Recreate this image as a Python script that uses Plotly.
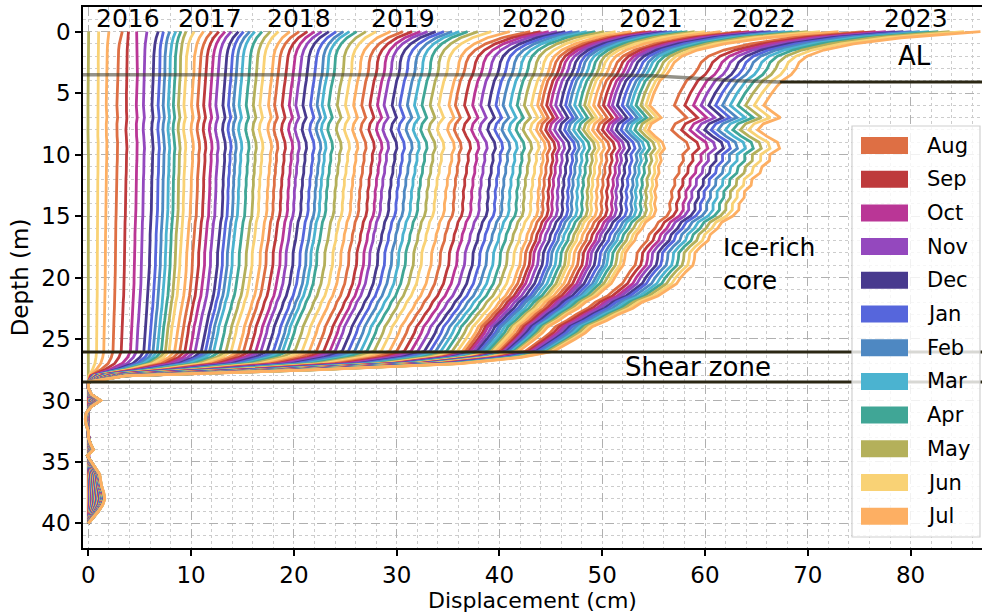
import numpy as np
import plotly.graph_objects as go

# ---------------------------------------------------------------------------
# Inclinometer surveys, monthly from May 2015 to Jul 2023
# ---------------------------------------------------------------------------
MONTH_ABBR = ["Jan", "Feb", "Mar", "Apr", "May", "Jun",
              "Jul", "Aug", "Sep", "Oct", "Nov", "Dec"]
survey_labels = []
yy, mm = 2015, 5
for _ in range(99):
    survey_labels.append(f"{MONTH_ABBR[mm - 1]} {yy}")
    mm += 1
    if mm > 12:
        mm, yy = 1, yy + 1

# cumulative displacement (cm) at the ground surface
surface = [0.03, 1.0, 2.0,
           3.3, 3.9, 4.7, 5.7, 6.8, 7.3, 7.9, 8.5, 9.0, 9.5, 10.3, 11.2,
           12.0, 12.7, 13.3, 13.9, 14.6, 15.1, 15.7, 16.2, 16.9, 17.7, 18.5, 19.6,
           20.5, 21.3, 22.0, 22.7, 23.4, 24.1, 24.8, 25.4, 26.1, 27.0, 28.0, 29.4,
           30.6, 31.5, 32.3, 33.0, 33.8, 34.6, 35.4, 36.1, 36.9, 37.9, 39.2, 41.0,
           43.0, 44.0, 44.8, 45.6, 46.4, 47.1, 47.8, 48.5, 49.3, 50.2, 51.3, 52.8,
           54.2, 54.8, 55.3, 55.8, 56.3, 56.8, 57.3, 57.8, 58.3, 59.0, 60.0, 61.5,
           63.5, 64.3, 65.0, 65.7, 66.4, 67.1, 67.8, 68.5, 69.2, 70.0, 71.2, 73.0,
           75.5, 76.6, 77.6, 78.5, 79.3, 80.1, 80.9, 81.8, 82.7, 83.8, 85.2, 86.8]

# cumulative displacement (cm) at the base of the active layer (~4 m)
al_base = [0.0, 0.95, 1.8,
           2.85, 3.75, 4.75, 5.45, 6.3, 6.9, 7.4, 7.9, 8.4, 8.9, 9.45, 10.2,
           10.8, 11.4, 12.0, 12.6, 13.3, 13.85, 14.35, 14.9, 15.6, 16.3, 16.95, 17.8,
           18.4, 19.15, 19.85, 20.5, 21.2, 21.95, 22.6, 23.1, 23.75, 24.6, 25.4, 26.2,
           27.0, 27.8, 28.55, 29.2, 30.0, 30.75, 31.5, 32.2, 32.95, 33.75, 34.6, 35.6,
           36.2, 37.1, 37.9, 38.7, 39.5, 40.2, 40.9, 41.6, 42.3, 43.0, 43.7, 44.3,
           44.7, 45.2, 45.6, 46.1, 46.6, 47.1, 47.5, 48.0, 48.5, 49.0, 49.4, 49.9,
           50.4, 50.9, 51.4, 51.8, 52.3, 52.8, 53.3, 53.7, 54.2, 54.7, 55.2, 55.6,
           58.2, 59.3, 60.2, 61.0, 61.8, 62.5, 63.2, 64.0, 64.8, 65.6, 66.5, 67.5]

# cumulative displacement (cm) at 15 m depth
core_15m = [0.0, 0.9, 1.7,
            2.7, 3.6, 4.6, 5.3, 6.1, 6.7, 7.2, 7.7, 8.2, 8.7, 9.2, 9.9,
            10.5, 11.1, 11.7, 12.3, 13.0, 13.5, 14.0, 14.5, 15.2, 15.9, 16.5, 17.3,
            17.9, 18.6, 19.3, 19.9, 20.6, 21.3, 21.9, 22.4, 23.0, 23.8, 24.6, 25.4,
            26.2, 27.0, 27.7, 28.3, 29.1, 29.8, 30.5, 31.2, 31.9, 32.7, 33.5, 34.5,
            35.4, 36.3, 37.1, 37.9, 38.7, 39.4, 40.1, 40.8, 41.5, 42.2, 42.9, 43.6,
            44.1, 44.6, 45.0, 45.5, 46.0, 46.5, 46.9, 47.4, 47.9, 48.4, 48.8, 49.3,
            49.8, 50.3, 50.8, 51.2, 51.7, 52.2, 52.7, 53.1, 53.6, 54.1, 54.6, 55.0,
            56.3, 56.9, 57.5, 58.0, 58.6, 59.1, 59.7, 60.3, 60.9, 61.5, 62.1, 62.7]

# cumulative displacement (cm) at the top of the shear zone (26 m)
shear_top = [0.0, 0.8, 1.5,
             2.4, 3.2, 4.1, 4.7, 5.4, 5.9, 6.3, 6.7, 7.1, 7.5, 7.85, 8.4,
             8.9, 9.4, 9.9, 10.4, 11.0, 11.4, 11.8, 12.2, 12.8, 13.4, 13.9, 14.6,
             15.1, 15.7, 16.3, 16.8, 17.4, 18.0, 18.5, 18.9, 19.4, 20.1, 20.8, 21.5,
             22.2, 22.9, 23.5, 24.0, 24.7, 25.3, 25.9, 26.5, 27.1, 27.8, 28.5, 29.3,
             30.0, 30.75, 31.4, 32.05, 32.7, 33.25, 33.8, 34.3, 34.85, 35.4, 35.9, 36.4,
             36.7, 37.0, 37.2, 37.5, 37.8, 38.1, 38.3, 38.6, 38.9, 39.2, 39.4, 39.7,
             40.0, 40.2, 40.4, 40.5, 40.7, 40.9, 41.1, 41.2, 41.4, 41.6, 41.8, 41.9,
             42.5, 42.8, 43.1, 43.3, 43.6, 43.8, 44.1, 44.4, 44.6, 44.8, 45.1, 45.3]

# profile shape within each depth segment (share of the segment's displacement)
al_depths = [0.0, 0.5, 1.0, 1.5, 2.0, 2.5, 3.0, 3.5, 4.0]
al_share = [1.0, 0.6, 0.36, 0.21, 0.12, 0.07, 0.04, 0.02, 0.0]

upper_depths = [4.5, 5.0, 5.5, 6.0, 6.5, 7.0, 7.5, 8.0, 8.5, 9.0, 9.5, 10.0,
                10.5, 11.0, 11.5, 12.0, 12.5, 13.0, 13.5, 14.0, 14.5, 15.0]
upper_share = [0.99, 0.98, 0.96, 0.94, 0.92, 0.90, 0.87, 0.84, 0.81, 0.78, 0.74, 0.69,
               0.62, 0.55, 0.47, 0.39, 0.33, 0.26, 0.19, 0.13, 0.06, 0.0]

lower_depths = [15.5, 16.0, 16.5, 17.0, 17.5, 18.0, 18.5, 19.0, 19.5, 20.0, 20.5,
                21.0, 21.5, 22.0, 22.5, 23.0, 23.5, 24.0, 24.5, 25.0, 25.5, 26.0]
lower_share = [0.95, 0.91, 0.88, 0.85, 0.82, 0.80, 0.78, 0.76, 0.74, 0.72, 0.68,
               0.63, 0.57, 0.50, 0.43, 0.36, 0.29, 0.22, 0.17, 0.12, 0.06, 0.0]

shear_depths = [26.5, 27.0, 27.5, 28.0, 28.5]
shear_share = [0.93, 0.80, 0.50, 0.08, 0.0]

# small local offsets (cm) in the stable ground below the shear zone, last survey
deep_depths = [29.0, 29.5, 30.0, 30.5, 31.0, 31.5, 32.0, 32.5, 33.0, 33.5, 34.0,
               34.5, 35.0, 35.5, 36.0, 36.5, 37.0, 37.5, 38.0, 38.5, 39.0, 39.5, 40.0]
deep_offset = [0.0, 0.3, 1.2, 0.3, -0.2, -0.3, -0.2, 0.0, 0.0, 0.2, 0.5,
               -0.1, 0.3, 0.7, 1.1, 1.2, 1.3, 1.5, 1.6, 1.4, 1.0, 0.5, 0.0]

# local kinks (cm) of the profile from 0 m to 28.5 m, last survey
kink_offset = [0.0, 0.0, 0.0, 0.0, 0.1, 0.3, 0.6, 0.5, 0.0,
               -0.5, -0.9, -1.2, -1.5, -0.6, 0.3, -1.2, -1.6, -0.6, 0.6, 1.0, 0.3,
               0.6, 0.2, 0.4, 0.0, 0.2, -0.1, 0.2, 0.0, 0.3, 0.0,
               -0.2, 0.1, -0.1, 0.2, 0.0, -0.2, 0.1, 0.3, 0.0, -0.2, 0.1,
               0.0, 0.2, -0.1, 0.2, 0.0, 0.1, -0.1, 0.1, 0.0, 0.0, 0.0,
               0.0, 0.0, 0.0, 0.0, 0.0]

# colour for each calendar month
month_colors = {
    "Aug": "#DE6F44", "Sep": "#BE3A3C", "Oct": "#BA3696", "Nov": "#9448BE",
    "Dec": "#483A8E", "Jan": "#5666DC", "Feb": "#4E88C2", "Mar": "#4BB3D0",
    "Apr": "#40A696", "May": "#B4B05A", "Jun": "#F9D275", "Jul": "#FDAF63",
}
legend_order = ["Aug", "Sep", "Oct", "Nov", "Dec", "Jan",
                "Feb", "Mar", "Apr", "May", "Jun", "Jul"]

# year labels along the top
year_text = ["2016", "2017", "2018", "2019", "2020", "2021", "2022", "2023"]
year_x = [3.9, 11.8, 20.5, 30.6, 43.4, 54.7, 65.7, 80.5]

# active-layer base through time and the shear-zone bounds
al_line_x = [-0.6, 50.0, 55.0, 59.5, 63.0, 67.3]
al_line_depth = [3.5, 3.5, 3.6, 3.85, 4.0, 4.1]
al_line_end_x = [67.3, 88.0]
al_line_end_depth = [4.1, 4.1]
shear_zone_bounds = [26.05, 28.5]


def build_profile(i):
    d0, d4, d15, d26 = surface[i], al_base[i], core_15m[i], shear_top[i]
    kink_scale = (d4 - d26 + 0.5) / 22.7
    xs, zs = [], []
    for z, s in zip(al_depths, al_share):
        xs.append(d4 + s * (d0 - d4)); zs.append(z)
    for z, s in zip(upper_depths, upper_share):
        xs.append(d15 + s * (d4 - d15)); zs.append(z)
    for z, s in zip(lower_depths, lower_share):
        xs.append(d26 + s * (d15 - d26)); zs.append(z)
    for z, s in zip(shear_depths, shear_share):
        xs.append(s * d26); zs.append(z)
    xs = [x + kink_scale * k for x, k in zip(xs, kink_offset)]
    deep_scale = d26 / shear_top[-1]
    for z, o in zip(deep_depths, deep_offset):
        xs.append(o * deep_scale); zs.append(z)
    return xs, zs


fig = go.Figure()
for i, lab in enumerate(survey_labels):
    xs, zs = build_profile(i)
    fig.add_trace(go.Scatter(
        x=xs, y=zs, mode="lines", name=lab, showlegend=False,
        line=dict(color=month_colors[lab.split()[0]], width=2.8),
        hoverinfo="skip"))

fig.add_trace(go.Scatter(x=al_line_x, y=al_line_depth, mode="lines",
                         line=dict(color="rgba(60,56,40,0.55)", width=3.5),
                         showlegend=False, hoverinfo="skip"))
fig.add_trace(go.Scatter(x=al_line_end_x, y=al_line_end_depth, mode="lines",
                         line=dict(color="#2b2714", width=3),
                         showlegend=False, hoverinfo="skip"))
for zb in shear_zone_bounds:
    fig.add_shape(type="line", xref="paper", x0=0, x1=1, yref="y", y0=zb, y1=zb,
                  line=dict(color="#2b2714", width=3))

FONT = "DejaVu Sans, Arial, sans-serif"

for t, x in zip(year_text, year_x):
    fig.add_annotation(x=x, y=-1.05, text=t, showarrow=False,
                       font=dict(size=25, color="black", family=FONT))
fig.add_annotation(x=80.4, y=1.95, text="AL", showarrow=False,
                   font=dict(size=26, color="black", family=FONT))
fig.add_annotation(x=61.6, y=18.9, text="Ice-rich<br>core", showarrow=False,
                   xanchor="left", align="left",
                   font=dict(size=25, color="black", family=FONT))
fig.add_annotation(x=52.0, y=27.25, text="Shear zone", showarrow=False,
                   xanchor="left",
                   font=dict(size=26, color="black", family=FONT))

# month legend drawn in paper coordinates
W_PLOT, H_PLOT, L_PX, T_PX = 899.0, 541.0, 83.0, 7.0


def px(xp):
    return (xp - L_PX) / W_PLOT


def py(yp):
    return 1 - (yp - T_PX) / H_PLOT


fig.add_shape(type="rect", xref="paper", yref="paper",
              x0=px(852), x1=px(980), y0=py(537), y1=py(126),
              fillcolor="rgba(255,255,255,0.82)",
              line=dict(color="#d0d0d0", width=1.2), layer="above")
for k, m in enumerate(legend_order):
    yc = 145.5 + 33.7 * k
    fig.add_shape(type="rect", xref="paper", yref="paper",
                  x0=px(861), x1=px(908), y0=py(yc + 8.5), y1=py(yc - 8.5),
                  fillcolor=month_colors[m], line=dict(width=0), layer="above")
    fig.add_annotation(xref="paper", yref="paper", x=px(925), y=py(yc),
                       text=m, showarrow=False, xanchor="left", yanchor="middle",
                       font=dict(size=21, color="black", family=FONT))

fig.update_layout(
    width=982, height=615,
    margin=dict(l=83, r=0, t=7, b=67),
    paper_bgcolor="white", plot_bgcolor="white",
    font=dict(family=FONT, size=22, color="black"),
    showlegend=False,
)
fig.update_xaxes(
    range=[-0.52, 86.95], tickvals=[0, 10, 20, 30, 40, 50, 60, 70, 80],
    showline=True, linecolor="black", linewidth=1.5, mirror=True,
    ticks="outside", ticklen=6, tickwidth=1.5, tickcolor="black",
    tickfont=dict(size=23, family=FONT),
    showgrid=True, gridcolor="#b0b0b0", griddash="dash", gridwidth=1,
    minor=dict(dtick=2, showgrid=True, gridcolor="#cccccc", griddash="dot", gridwidth=1),
    zeroline=False,
    title=dict(text="Displacement (cm)", font=dict(size=22, family=FONT), standoff=4),
)
fig.update_yaxes(
    range=[42, -2], tickvals=[0, 5, 10, 15, 20, 25, 30, 35, 40],
    showline=True, linecolor="black", linewidth=1.5, mirror=False,
    ticks="outside", ticklen=6, tickwidth=1.5, tickcolor="black",
    tickfont=dict(size=23, family=FONT),
    showgrid=True, gridcolor="#b0b0b0", griddash="dash", gridwidth=1,
    minor=dict(dtick=1, showgrid=True, gridcolor="#cccccc", griddash="dot", gridwidth=1),
    zeroline=False,
    title=dict(text="Depth (m)", font=dict(size=23, family=FONT), standoff=6),
)

fig.write_html("out.html")
